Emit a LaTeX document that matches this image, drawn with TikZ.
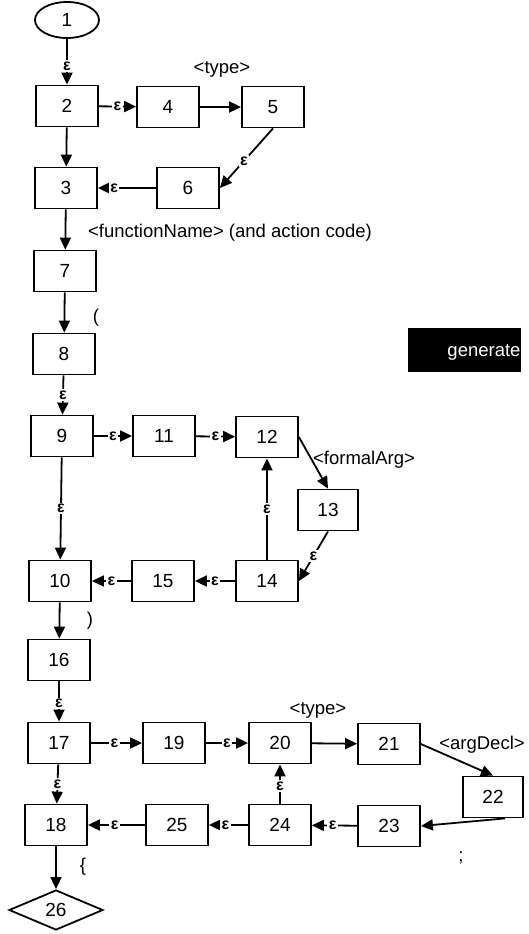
\documentclass[tikz,border=0pt]{standalone}
\usepackage{fontspec}
\setmainfont{Liberation Sans}
\usetikzlibrary{arrows.meta,shapes.geometric}
\begin{document}
\begin{tikzpicture}[x=1pt,y=-1pt,
  every node/.style={font=\fontsize{19}{21}\selectfont},
  box/.style={draw,line width=1.8pt,minimum width=62pt,minimum height=41pt,inner sep=0pt},
  conn/.style={line width=1.8pt,-{Triangle[length=12pt,width=11pt]}},
  eps/.style={fill=white,inner sep=1.5pt,font=\fontsize{16}{17}\selectfont\bfseries},
  lbl/.style={inner sep=0pt,font=\fontsize{18.5}{20}\selectfont}]
\useasboundingbox (0,0) rectangle (529,934);
% nodes
\node[draw,ellipse,line width=1.8pt,minimum width=64pt,minimum height=36pt,inner sep=0pt] (n1) at (67,20) {1};
\node[box] (n2) at (67,106) {2};
\node[box] (n4) at (168,107) {4};
\node[box] (n5) at (273,107) {5};
\node[box] (n3) at (66,188) {3};
\node[box] (n6) at (188,188) {6};
\node[box] (n7) at (65,271) {7};
\node[box] (n8) at (64,354) {8};
\node[box] (n9) at (62,436) {9};
\node[box] (n11) at (164,436) {11};
\node[box] (n12) at (267,437) {12};
\node[box,minimum width=60pt] (n13) at (328,510) {13};
\node[box] (n14) at (267,581) {14};
\node[box] (n15) at (163,581) {15};
\node[box] (n10) at (60,581) {10};
\node[box] (n16) at (59,660) {16};
\node[box] (n17) at (59,743) {17};
\node[box] (n19) at (174,743) {19};
\node[box] (n20) at (280,743) {20};
\node[box] (n21) at (389,744) {21};
\node[box,minimum width=60pt] (n22) at (493,797) {22};
\node[box] (n23) at (389,826) {23};
\node[box] (n24) at (280,825) {24};
\node[box] (n25) at (177,825) {25};
\node[box] (n18) at (56,825) {18};
\node[draw,diamond,line width=1.8pt,minimum width=94pt,minimum height=40pt,inner sep=0pt,aspect=2.35] (n26) at (56,910) {26};
% generate box
\node[fill=black,minimum width=113pt,minimum height=44pt,inner sep=0pt] (gen) at (464,350) {};
\node[text=white,lbl] (gent) at (484,352) {generate};
% labels
\node[lbl] (ltype1) at (222,69) {<type>};
\node[lbl] (lfn) at (230,233) {<functionName> (and action code)};
\node[lbl] (lpar) at (96,318) {(};
\node[lbl] (lfa) at (364,460) {<formalArg>};
\node[lbl] (lcpar) at (90,621) {)};
\node[lbl] (ltype2) at (318,710) {<type>};
\node[lbl] (lad) at (482,745) {<argDecl>};
\node[lbl] (lsemi) at (461,858) {;};
\node[lbl] (lbrace) at (83,867) {\{};
% connectors
\draw[conn] (n1) -- node[eps,pos=0.6] {ε} (n2);
\draw[conn] (n2) -- node[eps] {ε} (n4);
\draw[conn] (n4) -- (n5);
\draw[conn] (n5.south) -- node[eps,pos=0.55] {ε} (n6.east);
\draw[conn] (n6) -- node[eps,pos=0.72] {ε} (n3);
\draw[conn] (n2) -- (n3);
\draw[conn] (n3) -- (n7);
\draw[conn] (n7) -- (n8);
\draw[conn] (n8) -- node[eps,pos=0.5] {ε} (n9);
\draw[conn] (n9) -- node[eps] {ε} (n11);
\draw[conn] (n11) -- node[eps] {ε} (n12);
\draw[conn] (n12.east) -- (n13.north);
\draw[conn] (n13.south) -- node[eps,pos=0.5] {ε} (n14.east);
\draw[conn] (n14) -- node[eps] {ε} (n12);
\draw[conn] (n14) -- node[eps] {ε} (n15);
\draw[conn] (n15) -- node[eps] {ε} (n10);
\draw[conn] (n9) -- node[eps] {ε} (n10);
\draw[conn] (n10) -- (n16);
\draw[conn] (n16) -- node[eps,pos=0.55] {ε} (n17);
\draw[conn] (n17) -- node[eps,pos=0.46] {ε} (n19);
\draw[conn] (n19) -- node[eps] {ε} (n20);
\draw[conn] (n20) -- (n21);
\draw[conn] (n21.east) -- (n22.north);
\draw[conn] ([xshift=12pt]n22.south) -- (n23.east);
\draw[conn] (n23) -- node[eps,pos=0.54] {ε} (n24);
\draw[conn] (n24) -- node[eps,pos=0.45] {ε} (n20);
\draw[conn] (n24) -- node[eps,pos=0.58] {ε} (n25);
\draw[conn] (n25) -- node[eps,pos=0.53] {ε} (n18);
\draw[conn] (n17) -- node[eps] {ε} (n18);
\draw[conn] (n18) -- (n26);
\end{tikzpicture}
\end{document}
